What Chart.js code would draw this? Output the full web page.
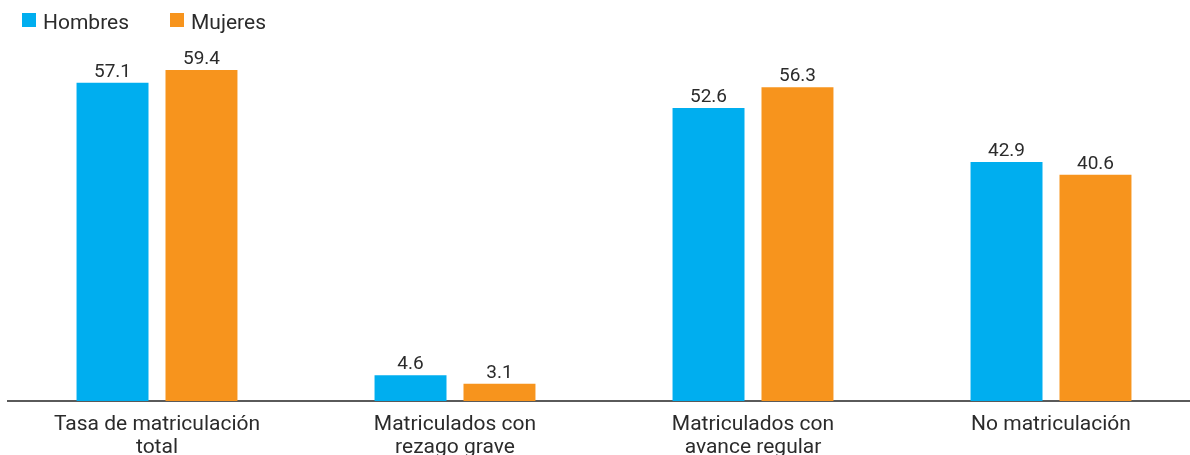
<!DOCTYPE html>
<html>
<head>
<meta charset="utf-8">
<script src="https://cdn.jsdelivr.net/npm/chart.js@4.4.1/dist/chart.umd.min.js"></script>
<style>
  html, body { margin: 0; padding: 0; background: #fff; overflow: hidden; }
  #wrap { width: 1190px; height: 455px; overflow: hidden; }
</style>
</head>
<body>
<div id="wrap"><canvas id="myChart" width="1200" height="471"></canvas></div>
<script>
const categories = [
    ["Tasa de matriculación", "total"],
    ["Matriculados con", "rezago grave"],
    ["Matriculados con", "avance regular"],
    "No matriculación",
];
const hombres = [57.1, 4.6, 52.6, 42.9];
const mujeres = [59.4, 3.1, 56.3, 40.6];
const seriesNames = ["Hombres", "Mujeres"];

const blue = "#00AEEF";
const orange = "#F7941D";
const textColor = "#2b2b2b";
const fontName = "Roboto, 'Liberation Sans', sans-serif";

// valores encima de cada barra
const valueLabels = {
    id: "valueLabels",
    afterDatasetsDraw(chart) {
        const c = chart.ctx;
        c.save();
        c.fillStyle = textColor;
        c.font = "19px " + fontName;
        c.textAlign = "center";
        c.textBaseline = "alphabetic";
        chart.data.datasets.forEach((ds, i) => {
            chart.getDatasetMeta(i).data.forEach((bar, j) => {
                c.fillText(ds.data[j].toFixed(1), bar.x, bar.y - 6);
            });
        });
        c.restore();
    },
};

// leyenda arriba a la izquierda
const topLegend = {
    id: "topLegend",
    afterDraw(chart) {
        const c = chart.ctx;
        const spots = [22, 170];
        c.save();
        c.font = "21px " + fontName;
        c.textBaseline = "alphabetic";
        chart.data.datasets.forEach((ds, i) => {
            c.fillStyle = ds.backgroundColor;
            c.fillRect(spots[i], 13, 14, 14);
            c.fillStyle = textColor;
            c.fillText(ds.label, spots[i] + 21, 29);
        });
        c.restore();
    },
};

const ctx = document.getElementById("myChart");

const data = {
    labels: categories,
    datasets: [
        { label: seriesNames[0], data: hombres, backgroundColor: blue },
        { label: seriesNames[1], data: mujeres, backgroundColor: orange },
    ],
};

const config = {
    type: "bar",
    data: data,
    options: {
        responsive: false,
        animation: false,
        categoryPercentage: 0.597,
        barPercentage: 0.809,
        layout: { padding: { left: 8, right: 0, top: 11, bottom: 0 } },
        plugins: {
            legend: { display: false },
            tooltip: { enabled: false },
        },
        scales: {
            x: {
                grid: { display: false, drawTicks: false },
                border: { display: true, color: "#5a5a5a", width: 2 },
                ticks: {
                    color: textColor,
                    padding: 12,
                    maxRotation: 0,
                    autoSkip: false,
                    font: { family: fontName, size: 21, lineHeight: "23px" },
                },
            },
            y: {
                display: false,
                min: 0,
                max: 70,
            },
        },
    },
    plugins: [valueLabels, topLegend],
};

const myChart = new Chart(ctx, config);
</script>
</body>
</html>
